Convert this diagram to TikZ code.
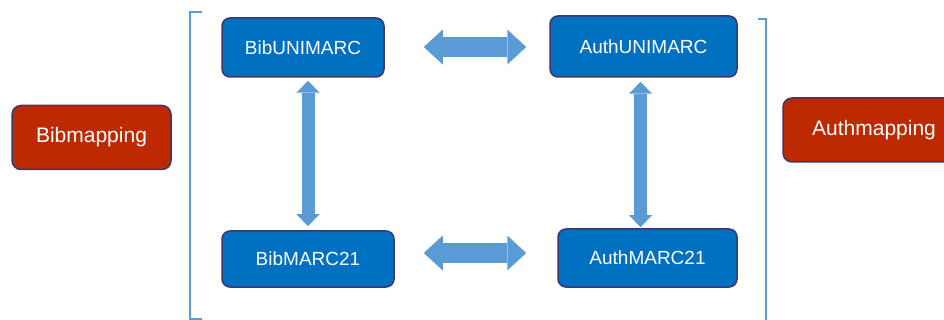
\documentclass[tikz,border=0pt]{standalone}
\usepackage{fontspec}
\setmainfont{Liberation Sans}
\usetikzlibrary{positioning,arrows.meta}
\definecolor{formatblue}{RGB}{0,112,192}
\definecolor{mapred}{RGB}{189,41,0}
\definecolor{boxedge}{RGB}{58,56,108}
\definecolor{linkblue}{RGB}{91,155,213}
\tikzstyle{format} = [draw=boxedge, line width=1.5pt, fill=formatblue, rectangle, rounded corners=8pt, text=white, inner sep=0pt, font=\fontsize{19}{22}\selectfont]
\tikzstyle{mapping} = [draw=boxedge, line width=1.5pt, fill=mapred, rectangle, rounded corners=9pt, text=white, inner sep=0pt, minimum height=64pt, font=\fontsize{21}{24}\selectfont]
\tikzstyle{wide} = [draw=linkblue, line width=20pt, {Triangle[width=35pt,length=19pt,line width=0pt]}-{Triangle[width=35pt,length=19pt,line width=0pt]}]
\tikzstyle{tall} = [draw=linkblue, line width=13pt, {Triangle[width=23pt,length=12pt,line width=0pt]}-{Triangle[width=23pt,length=12pt,line width=0pt]}]
\tikzstyle{bracket} = [draw=linkblue, line width=1.2pt]

\begin{document}
\begin{tikzpicture}[x=1pt, y=-1pt]
    \useasboundingbox (0,0) rectangle (944,320);
    \clip (0,0) rectangle (944,320);
    % Place nodes
    \node [mapping, minimum width=159pt] (bibmapping) at (91.5,137.5) {Bibmapping};
    \node [format, minimum width=162pt, minimum height=59pt] (bibunimarc) at (303,47.5) {BibUNIMARC};
    \node [format, minimum width=187pt, minimum height=61pt] (authunimarc) at (643.5,46.5) {AuthUNIMARC};
    \node [format, minimum width=172pt, minimum height=56pt] (bibmarc21) at (308,259) {BibMARC21};
    \node [format, minimum width=179pt, minimum height=58pt] (authmarc21) at (647.5,258) {AuthMARC21};
    \node [mapping, minimum width=182pt] (authmapping) at (874,130) {Authmapping};
    % Draw brackets
    \path [bracket] (202,12) -- (190,12) -- (190,319) -- (202,319);
    \path [bracket] (758,19) -- (766,19) -- (766,324);
    % Draw edges
    \path [wide, shorten <=39pt, shorten >=23pt] ([yshift=0.5pt]bibunimarc.east) -- ([yshift=0.5pt]bibunimarc.east -| authunimarc.west);
    \path [wide, shorten <=29pt, shorten >=31pt] ([yshift=6pt]bibmarc21.east) -- ([yshift=6pt]bibmarc21.east -| authmarc21.west);
    \path [tall, shorten <=3pt, shorten >=4pt] (bibmarc21.north |- bibunimarc.south) -- (bibmarc21.north);
    \path [tall, shorten <=4pt, shorten >=1pt] ([xshift=-7pt]authmarc21.north |- authunimarc.south) -- ([xshift=-7pt]authmarc21.north);
\end{tikzpicture}
\end{document}
